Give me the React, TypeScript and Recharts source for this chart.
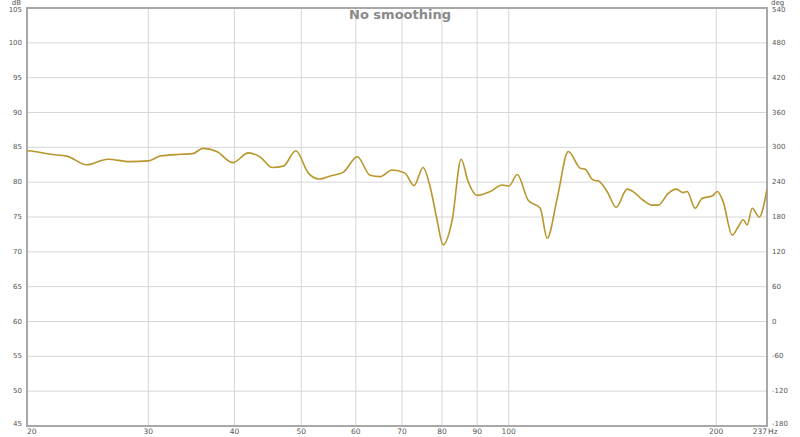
import { CartesianGrid, Line, LineChart, ReferenceArea, XAxis, YAxis } from "recharts";

// Frequency (Hz) and level (dB)
const freqs = [
  20, 20.5, 21.6, 22.9, 24.4, 26.2, 28.2, 30, 31.2, 33.4, 34.8, 36.0, 37.7, 39.8,
  41.9, 43.6, 45.4, 47.1, 49.1, 51.2, 53.1, 55.1, 57.5, 60.3, 62.9, 65.1, 67.7,
  70.7, 72.9, 75.1, 76.9, 78.7, 80.3, 82.8, 85.3, 87.3, 90.0, 94.0, 97.8, 100.1,
  102.9, 106.7, 111.1, 113.7, 117.6, 122.0, 127.0, 129.1, 132.6, 134.8, 138.9,
  143.2, 148.5, 151.5, 156.7, 161.5, 164.8, 170.4, 175.0, 179.1, 181.5, 186.4,
  190.9, 197.3, 200.7, 204.7, 211.0, 215.3, 218.9, 221.8, 225.6, 230.9, 237,
];
const spl = [
  84.5, 84.4, 84.0, 83.7, 82.5, 83.3, 82.95, 83.05, 83.75, 84.0, 84.1, 84.85, 84.4,
  82.8, 84.2, 83.6, 82.1, 82.3, 84.5, 81.3, 80.45, 80.9, 81.4, 83.65, 81.0, 80.8,
  81.75, 81.3, 79.5, 82.1, 79.35, 74.6, 71.0, 74.6, 83.3, 80.1, 78.1, 78.65, 79.6,
  79.45, 81.1, 77.4, 76.25, 71.95, 77.7, 84.4, 82.0, 81.85, 80.3, 80.2, 78.65,
  76.4, 79.0, 78.65, 77.4, 76.7, 76.7, 78.4, 79.0, 78.5, 78.65, 76.25, 77.7, 78.0,
  78.65, 77.2, 72.4, 73.6, 74.6, 73.85, 76.25, 75.0, 79.0,
];

const xTicks = [20, 30, 40, 50, 60, 70, 80, 90, 100, 200, 237];
const dbTicks = [45, 50, 55, 60, 65, 70, 75, 80, 85, 90, 95, 100, 105];
const degTicks = [-180, -120, -60, 0, 60, 120, 180, 240, 300, 360, 420, 480, 540];

const rows = freqs.map((f, i) => ({ f, db: spl[i] }));

const FONT = "DejaVu Sans, sans-serif";
const TICK_COLOR = "#555";

function XTick(props: any) {
  const { x, y, payload } = props;
  const v = payload.value;
  const anchor = v === 20 ? "start" : v === 237 ? "end" : "middle";
  return (
    <g>
      <text x={x} y={y + 6} textAnchor={anchor} fontSize={7.5} fill={TICK_COLOR} fontFamily={FONT}>
        {v}
      </text>
      {v === 237 && (
        <text x={x + 1} y={y + 6} textAnchor="start" fontSize={7.5} fill={TICK_COLOR} fontFamily={FONT}>
          Hz
        </text>
      )}
    </g>
  );
}

// top label sits a little lower (unit name above it), bottom one a little higher
function labelY(y: number, isTop: boolean, isBottom: boolean) {
  if (isTop) return y + 4;
  if (isBottom) return y;
  return y + 2;
}

function LeftTick(props: any) {
  const { x, y, payload } = props;
  const top = payload.value === 105;
  return (
    <g>
      <text x={x - 3} y={labelY(y, top, payload.value === 45)} textAnchor="end" fontSize={7} fill={TICK_COLOR} fontFamily={FONT}>
        {payload.value}
      </text>
      {top && (
        <text x={x - 4} y={y - 3} textAnchor="end" fontSize={7} fill={TICK_COLOR} fontFamily={FONT}>
          dB
        </text>
      )}
    </g>
  );
}

function RightTick(props: any) {
  const { x, y, payload } = props;
  const top = payload.value === 540;
  return (
    <g>
      <text x={x + 3} y={labelY(y, top, payload.value === -180)} textAnchor="start" fontSize={7} fill={TICK_COLOR} fontFamily={FONT}>
        {payload.value}
      </text>
      {top && (
        <text x={x + 2} y={y - 3} textAnchor="start" fontSize={7} fill={TICK_COLOR} fontFamily={FONT}>
          deg
        </text>
      )}
    </g>
  );
}

export default function App() {
  return (
    <div style={{ position: "relative", width: 800, height: 437, background: "#fff" }}>
      <style>{`body{margin:0}`}</style>
      <LineChart width={800} height={437} data={rows} margin={{ top: 8, right: 0, bottom: 0, left: 0 }}>
        <CartesianGrid yAxisId="left" stroke="#d6d6d6" strokeWidth={1} />
        <XAxis
          dataKey="f"
          type="number"
          scale="log"
          domain={[20, 237]}
          ticks={xTicks}
          allowDataOverflow
          height={11}
          tickLine={false}
          axisLine={false}
          tickSize={0}
          tick={<XTick />}
          interval={0}
        />
        <YAxis
          yAxisId="left"
          type="number"
          domain={[45, 105]}
          ticks={dbTicks}
          width={27}
          tickLine={false}
          axisLine={false}
          tickSize={0}
          tick={<LeftTick />}
          interval={0}
        />
        <YAxis
          yAxisId="right"
          orientation="right"
          type="number"
          domain={[-180, 540]}
          ticks={degTicks}
          allowDataOverflow
          width={33}
          tickLine={false}
          axisLine={false}
          tickSize={0}
          tick={<RightTick />}
          interval={0}
        />
        <ReferenceArea
          yAxisId="left"
          x1={20}
          x2={237}
          y1={45}
          y2={105}
          fill="none"
          stroke="#a8a8a8"
          strokeWidth={2}
          ifOverflow="visible"
        />
        {/* phase axis carries no trace in the reference; invisible series keeps it drawn */}
        <Line
          yAxisId="right"
          type="monotone"
          dataKey="db"
          stroke="none"
          dot={false}
          activeDot={false}
          isAnimationActive={false}
        />
        <Line
          yAxisId="left"
          type="monotone"
          dataKey="db"
          stroke="#b8962c"
          strokeWidth={1.6}
          dot={false}
          isAnimationActive={false}
        />
      </LineChart>
      <div
        style={{
          position: "absolute",
          left: 0,
          top: 7,
          width: 800,
          textAlign: "center",
          fontFamily: FONT,
          fontWeight: "bold",
          fontSize: 13,
          color: "#8a8a8a",
        }}
      >
        No smoothing
      </div>
    </div>
  );
}
